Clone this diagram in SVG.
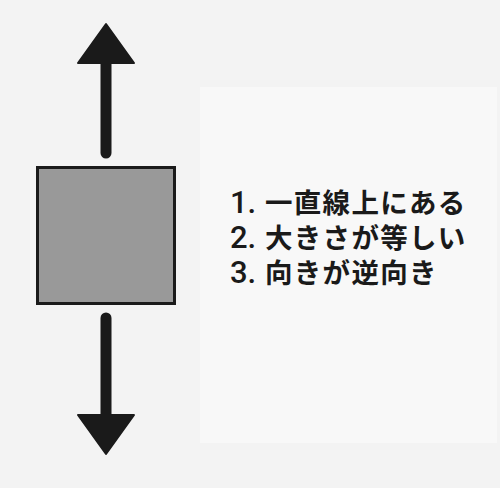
<svg xmlns="http://www.w3.org/2000/svg" width="500" height="488" viewBox="0 0 500 488">
  <style>
    .arrow-shaft { stroke: #1a1a1a; stroke-width: 11; stroke-linecap: round; fill: none; }
    .arrow-head { fill: #1a1a1a; stroke: #1a1a1a; stroke-width: 2; stroke-linejoin: round; }
    .label { font-family: "Noto Sans CJK JP", "Noto Sans", sans-serif; font-weight: 700; font-size: 20px; fill: #1a1a1a; }
    .num { font-family: "Roboto", "Noto Sans", sans-serif; font-weight: 500; font-size: 31px; }
    .jp { font-size: 27.5px; letter-spacing: 1.3px; }
  </style>
  <rect x="0" y="0" width="500" height="488" fill="#f3f3f3"/>
  <rect x="200" y="87" width="297" height="356" fill="#f8f8f8"/>
  <g id="connectors">
    <g id="arrow-up">
      <line class="arrow-shaft" x1="106" y1="153" x2="106" y2="60"/>
      <polygon class="arrow-head" points="106,24 134,63 78,63"/>
    </g>
    <g id="arrow-down">
      <line class="arrow-shaft" x1="106" y1="318" x2="106" y2="418"/>
      <polygon class="arrow-head" points="106,454 134,415 78,415"/>
    </g>
  </g>
  <g id="box">
    <rect x="37.5" y="167.5" width="137" height="136" fill="#999999" stroke="#1a1a1a" stroke-width="3"/>
  </g>
  <g id="conditions">
    <text class="label" x="230" y="213"><tspan class="num">1.</tspan><tspan class="jp" x="265">一直線上にある</tspan></text>
    <text class="label" x="230" y="248"><tspan class="num">2.</tspan><tspan class="jp" x="265">大きさが等しい</tspan></text>
    <text class="label" x="230" y="283"><tspan class="num">3.</tspan><tspan class="jp" x="265">向きが逆向き</tspan></text>
  </g>
</svg>
